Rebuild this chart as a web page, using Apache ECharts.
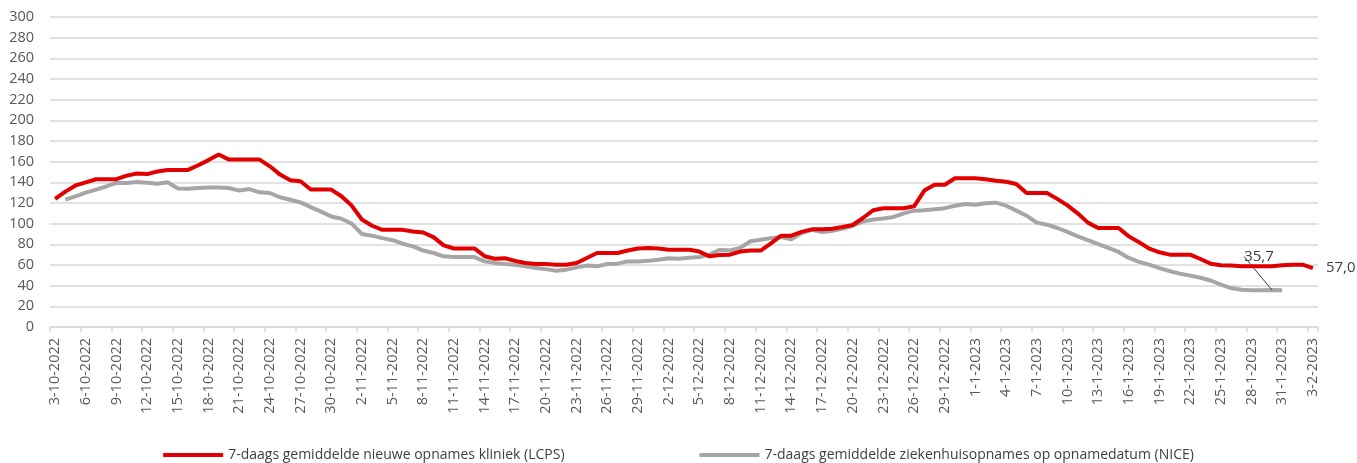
<!DOCTYPE html>
<html>
<head>
<meta charset="utf-8">
<script src="https://cdn.jsdelivr.net/npm/echarts@6/dist/echarts.min.js"></script>
<style>
html,body{margin:0;padding:0;background:#fff;}
#chart{width:1357px;height:463px;}
</style>
</head>
<body>
<div id="chart"></div>
<script>
// Categories: daily dates from 3-10-2022 through 3-2-2023
var startDate = [2022, 9, 3]; // year, month (0-based), day
var dayCount = 124;
var categories = [];
for (var k = 0; k < dayCount; k++) {
  var d = new Date(Date.UTC(startDate[0], startDate[1], startDate[2] + k));
  categories.push(d.getUTCDate() + '-' + (d.getUTCMonth() + 1) + '-' + d.getUTCFullYear());
}

var yTicks = [0, 300, 20]; // min, max, interval

var lcpsName = '7-daags gemiddelde nieuwe opnames kliniek (LCPS)';
var niceName = '7-daags gemiddelde ziekenhuisopnames op opnamedatum (NICE)';

var lcps = [
  124,131,137,140,143,143,143,146.5,148.5,148,
  150.5,152,152,152,156.5,161.5,167,162,162,162,
  162,155.5,147.5,142,141,133,133,133,126.5,117.5,
  104,98,94,94,94,92.5,91.5,87,79,76,
  76,76,68.5,66,66.5,64,62,61,61,60.3,
  60.3,62,66.8,71.6,71.6,71.6,74,76,76.5,76,
  74.8,74.8,74.8,73,68.4,69.7,70,73,74,74,
  81,88.4,88.4,92,94.5,94.5,95,96.8,98.7,105.5,
  113,115,115,115,116.8,132,137.7,137.7,144,144,
  144,143,141.6,140.6,138.4,129.7,129.7,129.7,124,117.7,
  110,101,95.8,95.8,95.8,87.7,82,75.8,72.3,70,
  70,70,65.8,61.3,59.7,59.4,58.7,58.7,58.7,58.7,
  59.7,60.3,60.3,57.0
];

var nice = [
  null,123.2,126.5,130,133,136,139.4,139.4,140.3,139.7,
  138.7,140,134,133.9,134.5,135,135,134.5,132,133.5,
  130.3,129.7,125.5,123.2,120.6,116,111.6,107,104.8,100,
  90,88.4,86,84,80.6,78,74,71.6,68.4,67.7,
  67.7,67.7,63.5,62,61,60.3,58.7,57,56,54.5,
  55.5,57.7,59.4,58.7,61,61.3,63.5,63.5,64,65,
  66.5,66,67,67.7,70,74.8,74,76.5,83,84.5,
  86,87,85,91,94,92,93,95,98,102,
  104,105,106.5,110,112.6,113,114,115,117.4,119,
  118.4,119.7,120.3,117.4,112.6,107.7,101,99,95.8,92,
  87.7,84,80.3,76.5,72.6,66.8,63,60.3,57,54,
  51.6,49.7,47.7,45,41,37.7,36,35.5,35.5,35.7,
  35.6,null,null,null
];

// annotated points: index into the series
var lcpsLabelIndex = 123;
var niceLabelIndex = 119;

function fmt(v){ return v.toFixed(1).replace('.', ','); }

var labelText = {color: '#404040', fontSize: 15, fontFamily: 'Open Sans'};

var lcpsData = lcps.map(function(v, idx){
  if (idx === lcpsLabelIndex) {
    return {value: v, label: Object.assign({show: true, position: 'right', distance: 13,
      formatter: function(p){ return fmt(p.value); }}, labelText)};
  }
  return v;
});
var niceData = nice.map(function(v, idx){
  if (idx === niceLabelIndex) {
    return {value: v, label: Object.assign({show: true, position: 'top', distance: 4,
      formatter: function(p){ return fmt(p.value); }}, labelText),
      labelLine: {show: true, lineStyle: {color: '#404040', width: 1}}};
  }
  return v;
});

var chart = echarts.init(document.getElementById('chart'), null, {renderer: 'canvas'});
chart.setOption({
  animation: false,
  backgroundColor: '#fff',
  grid: {left: 50, right: 39, top: 17, bottom: 136, containLabel: false},
  legend: {
    bottom: -4, left: 'center', itemGap: 135, itemWidth: 60, itemHeight: 4,
    icon: 'rect',
    textStyle: {color: '#404040', fontSize: 14, fontFamily: 'Open Sans'},
    data: [lcpsName, niceName]
  },
  xAxis: {
    type: 'category', data: categories, boundaryGap: true,
    axisLine: {lineStyle: {color: '#d9d9d9', width: 1.5}},
    axisTick: {show: true, interval: 2, length: 5, alignWithLabel: false, lineStyle: {color: '#d9d9d9', width: 1.5}},
    axisLabel: {interval: 2, rotate: 90, margin: 11, color: '#595959', fontSize: 14.5, fontFamily: 'Open Sans'}
  },
  yAxis: {
    type: 'value', min: yTicks[0], max: yTicks[1], interval: yTicks[2],
    axisLine: {show: false}, axisTick: {show: false},
    splitLine: {lineStyle: {color: '#d9d9d9', width: 1.5}},
    axisLabel: {margin: 16, color: '#595959', fontSize: 14.5, fontFamily: 'Open Sans'}
  },
  series: [
    {name: lcpsName, type: 'line', data: lcpsData, showSymbol: true, symbol: 'circle', symbolSize: 0,
     lineStyle: {color: '#e00000', width: 4}, itemStyle: {color: '#e00000'}, z: 3},
    {name: niceName, type: 'line', data: niceData, showSymbol: true, symbol: 'circle', symbolSize: 0, connectNulls: false,
     lineStyle: {color: '#a6a6a6', width: 4}, itemStyle: {color: '#a6a6a6'}, z: 2,
     labelLayout: function(params){
       if (params.dataIndex === niceLabelIndex) { return {dx: -13, dy: -22}; }
       return {};
     }}
  ]
});
</script>
</body>
</html>
